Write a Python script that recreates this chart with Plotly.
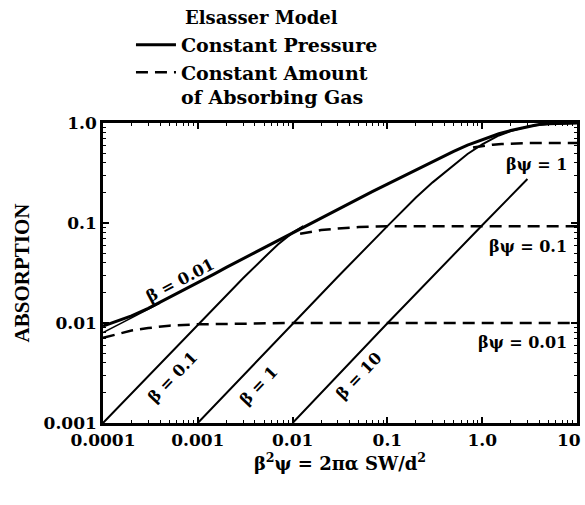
import plotly.graph_objects as go

# ---------------- data ----------------
x_tick_vals = [1e-4, 1e-3, 1e-2, 1e-1, 1, 10]
x_tick_text = ["0.0001", "0.001", "0.01", "0.1", "1.0", ""]
last_x_tick_text = "10"
y_tick_vals = [0.001, 0.01, 0.1, 1]
y_tick_text = ["0.001", "0.01", "0.1", "1.0"]
minor_mult = [2, 3, 4, 5, 6, 7, 8, 9]

# constant pressure curves (solid)
beta_001_x = [1e-4, 2e-4, 3e-4, 5e-4, 7e-4, 1e-3, 1.5e-3, 2e-3, 3e-3, 5e-3, 7e-3, 1e-2, 1.5e-2, 2e-2, 3e-2, 5e-2, 7e-2,
              0.1, 0.15, 0.2, 0.3, 0.5, 0.7, 1, 1.5, 2, 2.5, 3, 3.5, 4, 5, 10]
beta_001_A = [0.0093, 0.0118, 0.014, 0.018, 0.021, 0.025, 0.031, 0.036, 0.044, 0.056, 0.067, 0.080, 0.097, 0.112, 0.137,
              0.175, 0.207, 0.245, 0.296, 0.345, 0.415, 0.52, 0.60, 0.68, 0.78, 0.84, 0.885, 0.92, 0.945, 0.965, 0.985, 1.0]
beta_001_b_x = [1e-4, 2e-4, 4e-4]
beta_001_b_A = [0.0080, 0.0112, 0.0158]
beta_01_x = [1e-4, 1e-3, 3e-3, 5e-3, 7e-3, 1e-2, 1.3e-2]
beta_01_A = [0.001, 0.0096, 0.028, 0.045, 0.061, 0.080, 0.093]
beta_1_x = [1e-3, 1e-2, 3e-2, 0.1, 0.2, 0.3, 0.5, 0.7, 1, 1.5, 2, 3, 4, 5, 10]
beta_1_A = [0.001, 0.0099, 0.029, 0.093, 0.18, 0.255, 0.38, 0.49, 0.61, 0.75, 0.83, 0.92, 0.96, 0.98, 1.0]
beta_10_x = [0.01, 0.1, 1, 2, 3]
beta_10_A = [0.001, 0.00995, 0.095, 0.185, 0.275]

# constant amount of absorbing gas curves (dashed)
bpsi_001_x = [1e-4, 1.5e-4, 2e-4, 3e-4, 5e-4, 1e-3, 3e-3, 1e-2, 10]
bpsi_001_A = [0.0071, 0.0079, 0.0084, 0.0089, 0.0094, 0.0097, 0.0099, 0.01, 0.01]
bpsi_01_x = [0.012, 0.016, 0.02, 0.03, 0.05, 0.1, 1, 10]
bpsi_01_A = [0.078, 0.082, 0.085, 0.088, 0.091, 0.093, 0.093, 0.093]
bpsi_1_x = [0.8, 1, 1.3, 1.6, 2, 3, 10]
bpsi_1_A = [0.57, 0.59, 0.607, 0.617, 0.624, 0.63, 0.63]

FONT = "DejaVu Serif"
DASH = "12px,7px"

fig = go.Figure()

solid = [
    (beta_001_x, beta_001_A, 3.0, True),
    (beta_001_b_x, beta_001_b_A, 1.5, False),
    (beta_01_x, beta_01_A, 2.0, False),
    (beta_1_x, beta_1_A, 2.0, False),
    (beta_10_x, beta_10_A, 2.0, False),
]
for xs, ys, w, show in solid:
    fig.add_trace(go.Scatter(x=xs, y=ys, mode="lines", name="Constant Pressure",
                             legendgroup="p", showlegend=show,
                             line=dict(color="black", width=w)))

dashed = [
    (bpsi_001_x, bpsi_001_A, True),
    (bpsi_01_x, bpsi_01_A, False),
    (bpsi_1_x, bpsi_1_A, False),
]
for xs, ys, show in dashed:
    fig.add_trace(go.Scatter(x=xs, y=ys, mode="lines", name="Constant Amount<br>of Absorbing Gas",
                             legendgroup="a", showlegend=show,
                             line=dict(color="black", width=2.5, dash=DASH)))

x_minor = [m * d for d in [1e-4, 1e-3, 1e-2, 1e-1, 1] for m in minor_mult]
y_minor = [m * d for d in [1e-3, 1e-2, 1e-1] for m in minor_mult]

tick_font = dict(family=FONT, size=17, color="black", weight="bold")
axis_common = dict(
    type="log", showgrid=False, zeroline=False, automargin=False,
    showline=True, linecolor="black", linewidth=2.5, mirror="allticks",
    ticks="inside", ticklen=6, tickwidth=1.5, tickcolor="black",
    tickfont=tick_font,
)

fig.update_xaxes(**axis_common, range=[-4, 1], tickvals=x_tick_vals, ticktext=x_tick_text,
                 minor=dict(ticks="inside", ticklen=3, tickwidth=1, tickcolor="black", showgrid=False,
                            tickvals=x_minor),
                 title=dict(text="β<sup>2</sup>ψ = 2πα SW/d<sup>2</sup>",
                            font=dict(family=FONT, size=18, color="black", weight="bold"),
                            standoff=6))
fig.update_yaxes(**axis_common, range=[-3, 0], tickvals=y_tick_vals, ticktext=y_tick_text,
                 minor=dict(ticks="inside", ticklen=3, tickwidth=1, tickcolor="black", showgrid=False,
                            tickvals=y_minor),
                 title=dict(text="ABSORPTION",
                            font=dict(family="Liberation Serif", size=21, color="black", weight="bold"),
                            standoff=9))

# last x tick label kept inside the page edge
fig.add_annotation(xref="paper", yref="paper", x=1.0127, y=-0.057, xanchor="right", yanchor="middle",
                   text=last_x_tick_text, showarrow=False, font=tick_font)

lab_font = dict(family=FONT, size=16, color="black", weight="bold")
# rotated curve labels: (text, log10 x, log10 y, angle)
rot_labels = [
    ("β = 0.01", -3.19, -1.57, -28),
    ("β = 0.1", -3.27, -2.54, -46.5),
    ("β = 1", -2.36, -2.62, -46.5),
    ("β = 10", -1.31, -2.53, -46.5),
]
for t, lx, ly, ang in rot_labels:
    fig.add_annotation(x=lx, y=ly, text=t, showarrow=False, textangle=ang, font=lab_font)

flat_labels = [
    ("βψ = 1", -0.41),
    ("βψ = 0.1", -1.23),
    ("βψ = 0.01", -2.19),
]
for t, ly in flat_labels:
    fig.add_annotation(x=0.92, y=ly, text=t, showarrow=False, xanchor="right", font=lab_font)

fig.add_annotation(xref="paper", yref="paper", x=0.169, y=1.35, xanchor="left", yanchor="middle",
                   text="Elsasser Model", showarrow=False,
                   font=dict(family=FONT, size=18, color="black", weight="bold"))

fig.update_layout(
    width=585, height=505,
    margin=dict(l=103, r=8, t=123, b=82),
    paper_bgcolor="white", plot_bgcolor="white",
    legend=dict(x=0.059, y=1.324, xanchor="left", yanchor="top", bgcolor="rgba(0,0,0,0)",
                itemwidth=40, valign="top", traceorder="normal",
                font=dict(family=FONT, size=19, color="black", weight="bold")),
)

fig.write_html("out.html", config={"displayModeBar": False},
               post_script="document.body.style.margin='0';document.body.style.overflow='hidden';")
